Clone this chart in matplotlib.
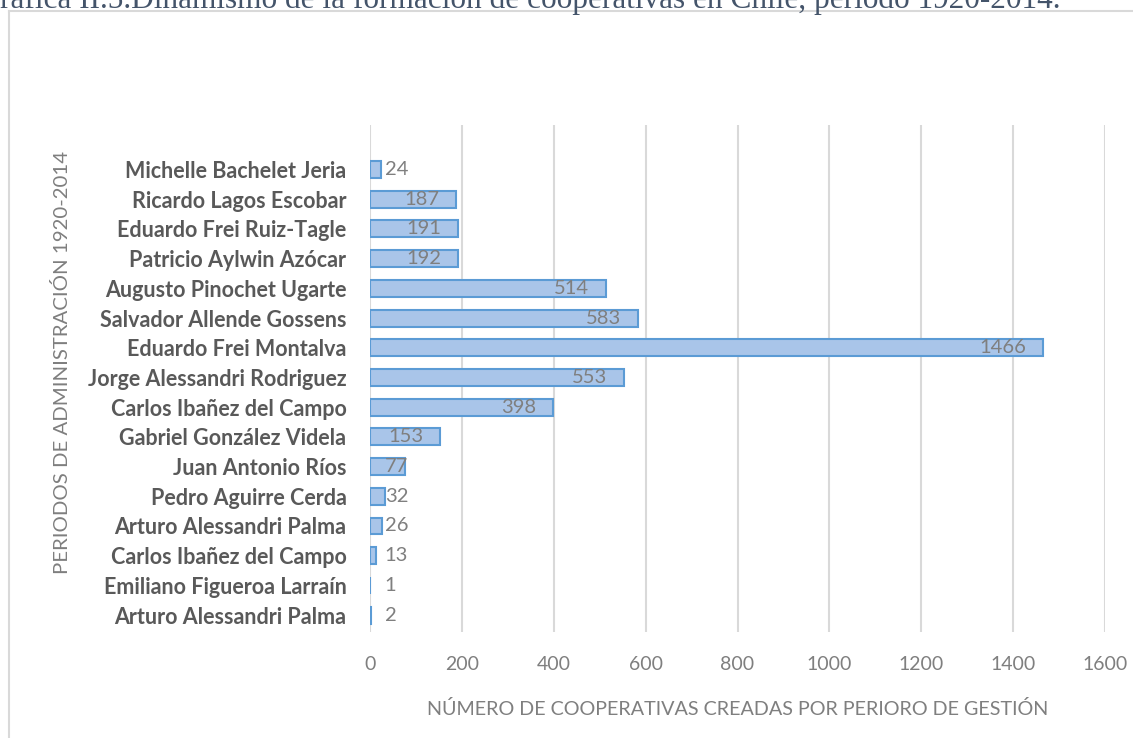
import matplotlib
matplotlib.use("Agg")
import matplotlib.pyplot as plt
from matplotlib.lines import Line2D

# datos: cooperativas creadas por periodo de gobierno (1920-2014)
presidentes = [
    "Arturo Alessandri Palma",
    "Emiliano Figueroa Larraín",
    "Carlos Ibañez del Campo",
    "Arturo Alessandri Palma",
    "Pedro Aguirre Cerda",
    "Juan Antonio Ríos",
    "Gabriel González Videla",
    "Carlos Ibañez del Campo",
    "Jorge Alessandri Rodriguez",
    "Eduardo Frei Montalva",
    "Salvador Allende Gossens",
    "Augusto Pinochet Ugarte",
    "Patricio Aylwin Azócar",
    "Eduardo Frei Ruiz-Tagle",
    "Ricardo Lagos Escobar",
    "Michelle Bachelet Jeria",
]
cooperativas = [2, 1, 13, 26, 32, 77, 153, 398, 553, 1466, 583, 514, 192, 191, 187, 24]
ticks_x = [0, 200, 400, 600, 800, 1000, 1200, 1400, 1600]

titulo = "ráfica II.5.Dinamismo de la formación de cooperativas en Chile, periodo 1920-2014."
xlabel = "NÚMERO DE COOPERATIVAS CREADAS POR PERIORO DE GESTIÓN"
ylabel = "PERIODOS DE ADMINISTRACIÓN 1920-2014"

W, H = 1133, 738
fig = plt.figure(figsize=(W / 100, H / 100), dpi=100)
plt.rcParams["font.family"] = ["Lato", "DejaVu Sans"]

# texto del documento (cortado arriba, como en la captura) y marco del gráfico
fig.text(0, 1 - 8 / H, titulo, fontsize=22.5, family="Liberation Serif",
         color="#44546A", ha="left", va="baseline")
fig.add_artist(Line2D([9 / W, 1], [1 - 11 / H, 1 - 11 / H], transform=fig.transFigure,
                      color="#D9D9D9", lw=1.5))
fig.add_artist(Line2D([9 / W, 9 / W], [0, 1 - 11 / H], transform=fig.transFigure,
                      color="#D9D9D9", lw=1.5))

ax = fig.add_axes([370 / W, 1 - 632 / H, 735 / W, 507 / H])
y = list(range(len(presidentes)))
ax.barh(y, cooperativas, height=0.57, color="#A9C5E9", edgecolor="#5B9BD5",
        linewidth=1.5, zorder=3)

# etiquetas de valor: dentro del extremo si la barra es larga, si no a la derecha del eje
for yi, v in zip(y, cooperativas):
    if v > 120:
        ax.text(v - 37, yi, str(v), ha="right", va="center", fontsize=14.5,
                color="#7F7F7F", zorder=4)
    else:
        ax.text(32, yi, str(v), ha="left", va="center", fontsize=14.5,
                color="#7F7F7F", zorder=4)

ax.set_xlim(0, 1600)
ax.set_ylim(-0.57, 16.5)
ax.set_xticks(ticks_x)
ax.set_yticks(y)
ax.set_yticklabels(presidentes, fontweight="bold", fontsize=15.5, color="#595959")
ax.tick_params(axis="x", labelsize=14, labelcolor="#7F7F7F", length=0, pad=17)
ax.tick_params(axis="y", length=0, pad=17)
ax.grid(axis="x", color="#D9D9D9", lw=1.5, zorder=0)
for s in ax.spines.values():
    s.set_visible(False)

ax.set_xlabel(xlabel, fontsize=14.2, color="#7F7F7F", labelpad=20)
fig.text(62 / W, 1 - 362 / H, ylabel, rotation=90, fontsize=14.7, color="#7F7F7F",
         ha="center", va="center")

fig.savefig("out.png", dpi=100)
